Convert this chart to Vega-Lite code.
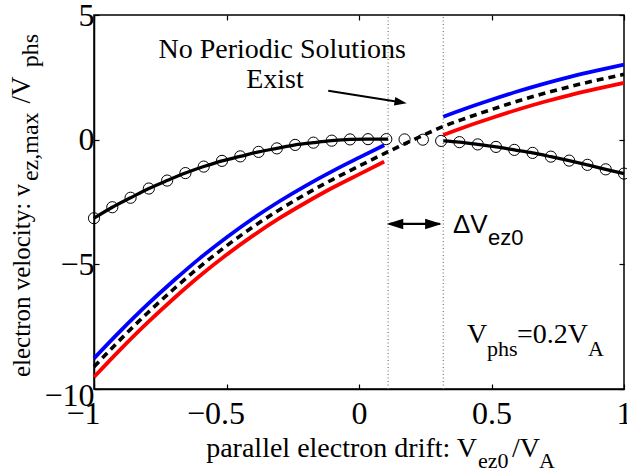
{
  "$schema": "https://vega.github.io/schema/vega-lite/v6.json",
  "width": 530,
  "height": 374,
  "autosize": {"type": "none"},
  "padding": {"left": 94, "top": 15, "right": 3, "bottom": 85},
  "background": "white",
  "config": {
    "view": {"stroke": "black", "strokeWidth": 1.5},
    "axis": {
      "labelFont": "Liberation Serif",
      "labelFontSize": 32,
      "labelColor": "black",
      "tickColor": "black",
      "tickWidth": 1.2,
      "tickSize": -5,
      "domainColor": "black",
      "domainWidth": 1.5,
      "grid": false,
      "labelOverlap": false,
      "labelFlush": false
    }
  },
  "datasets": {
    "vlines": [{"x": 0.11, "y": -10, "y2": 5}, {"x": 0.318, "y": -10, "y2": 5}],
    "curves": [
      {"s": "blue", "seg": "L", "x": -1, "y": -8.77},
      {"s": "blue", "seg": "L", "x": -0.9, "y": -7.67},
      {"s": "blue", "seg": "L", "x": -0.8, "y": -6.63},
      {"s": "blue", "seg": "L", "x": -0.7, "y": -5.66},
      {"s": "blue", "seg": "L", "x": -0.6, "y": -4.75},
      {"s": "blue", "seg": "L", "x": -0.5, "y": -3.92},
      {"s": "blue", "seg": "L", "x": -0.4, "y": -3.16},
      {"s": "blue", "seg": "L", "x": -0.3, "y": -2.47},
      {"s": "blue", "seg": "L", "x": -0.2, "y": -1.84},
      {"s": "blue", "seg": "L", "x": -0.1, "y": -1.26},
      {"s": "blue", "seg": "L", "x": 0.0, "y": -0.72},
      {"s": "blue", "seg": "L", "x": 0.095, "y": -0.22},
      {"s": "blue", "seg": "R", "x": 0.318, "y": 0.92},
      {"s": "blue", "seg": "R", "x": 0.4, "y": 1.24},
      {"s": "blue", "seg": "R", "x": 0.5, "y": 1.6},
      {"s": "blue", "seg": "R", "x": 0.6, "y": 1.94},
      {"s": "blue", "seg": "R", "x": 0.7, "y": 2.25},
      {"s": "blue", "seg": "R", "x": 0.8, "y": 2.53},
      {"s": "blue", "seg": "R", "x": 0.9, "y": 2.78},
      {"s": "blue", "seg": "R", "x": 1.0, "y": 3.01},
      {"s": "red", "seg": "L", "x": -1, "y": -9.52},
      {"s": "red", "seg": "L", "x": -0.9, "y": -8.41},
      {"s": "red", "seg": "L", "x": -0.8, "y": -7.36},
      {"s": "red", "seg": "L", "x": -0.7, "y": -6.38},
      {"s": "red", "seg": "L", "x": -0.6, "y": -5.46},
      {"s": "red", "seg": "L", "x": -0.5, "y": -4.62},
      {"s": "red", "seg": "L", "x": -0.4, "y": -3.85},
      {"s": "red", "seg": "L", "x": -0.3, "y": -3.15},
      {"s": "red", "seg": "L", "x": -0.2, "y": -2.52},
      {"s": "red", "seg": "L", "x": -0.1, "y": -1.93},
      {"s": "red", "seg": "L", "x": 0.0, "y": -1.39},
      {"s": "red", "seg": "L", "x": 0.095, "y": -0.88},
      {"s": "red", "seg": "R", "x": 0.318, "y": 0.19},
      {"s": "red", "seg": "R", "x": 0.4, "y": 0.51},
      {"s": "red", "seg": "R", "x": 0.5, "y": 0.87},
      {"s": "red", "seg": "R", "x": 0.6, "y": 1.21},
      {"s": "red", "seg": "R", "x": 0.7, "y": 1.52},
      {"s": "red", "seg": "R", "x": 0.8, "y": 1.8},
      {"s": "red", "seg": "R", "x": 0.9, "y": 2.05},
      {"s": "red", "seg": "R", "x": 1.0, "y": 2.28},
      {"s": "dash", "seg": "A", "x": -1, "y": -9.11},
      {"s": "dash", "seg": "A", "x": -0.9, "y": -8.01},
      {"s": "dash", "seg": "A", "x": -0.8, "y": -6.97},
      {"s": "dash", "seg": "A", "x": -0.7, "y": -6.0},
      {"s": "dash", "seg": "A", "x": -0.6, "y": -5.09},
      {"s": "dash", "seg": "A", "x": -0.5, "y": -4.26},
      {"s": "dash", "seg": "A", "x": -0.4, "y": -3.5},
      {"s": "dash", "seg": "A", "x": -0.3, "y": -2.81},
      {"s": "dash", "seg": "A", "x": -0.2, "y": -2.18},
      {"s": "dash", "seg": "A", "x": -0.1, "y": -1.6},
      {"s": "dash", "seg": "A", "x": 0.0, "y": -1.06},
      {"s": "dash", "seg": "A", "x": 0.095, "y": -0.56},
      {"s": "dash", "seg": "A", "x": 0.15, "y": -0.28},
      {"s": "dash", "seg": "A", "x": 0.2, "y": -0.03},
      {"s": "dash", "seg": "A", "x": 0.26, "y": 0.26},
      {"s": "dash", "seg": "A", "x": 0.318, "y": 0.53},
      {"s": "dash", "seg": "A", "x": 0.4, "y": 0.85},
      {"s": "dash", "seg": "A", "x": 0.5, "y": 1.21},
      {"s": "dash", "seg": "A", "x": 0.6, "y": 1.55},
      {"s": "dash", "seg": "A", "x": 0.7, "y": 1.86},
      {"s": "dash", "seg": "A", "x": 0.8, "y": 2.14},
      {"s": "dash", "seg": "A", "x": 0.9, "y": 2.39},
      {"s": "dash", "seg": "A", "x": 1.0, "y": 2.62},
      {"s": "black", "seg": "L", "x": -1, "y": -3.15},
      {"s": "black", "seg": "L", "x": -0.931, "y": -2.71},
      {"s": "black", "seg": "L", "x": -0.862, "y": -2.33},
      {"s": "black", "seg": "L", "x": -0.793, "y": -1.96},
      {"s": "black", "seg": "L", "x": -0.724, "y": -1.64},
      {"s": "black", "seg": "L", "x": -0.655, "y": -1.34},
      {"s": "black", "seg": "L", "x": -0.586, "y": -1.08},
      {"s": "black", "seg": "L", "x": -0.517, "y": -0.85},
      {"s": "black", "seg": "L", "x": -0.448, "y": -0.67},
      {"s": "black", "seg": "L", "x": -0.379, "y": -0.49},
      {"s": "black", "seg": "L", "x": -0.31, "y": -0.35},
      {"s": "black", "seg": "L", "x": -0.241, "y": -0.21},
      {"s": "black", "seg": "L", "x": -0.172, "y": -0.12},
      {"s": "black", "seg": "L", "x": -0.103, "y": -0.04},
      {"s": "black", "seg": "L", "x": -0.034, "y": 0.01},
      {"s": "black", "seg": "L", "x": 0.034, "y": 0.02},
      {"s": "black", "seg": "L", "x": 0.11, "y": 0.02},
      {"s": "black", "seg": "R", "x": 0.318, "y": -0.05},
      {"s": "black", "seg": "R", "x": 0.379, "y": -0.1},
      {"s": "black", "seg": "R", "x": 0.448, "y": -0.19},
      {"s": "black", "seg": "R", "x": 0.517, "y": -0.29},
      {"s": "black", "seg": "R", "x": 0.586, "y": -0.41},
      {"s": "black", "seg": "R", "x": 0.655, "y": -0.53},
      {"s": "black", "seg": "R", "x": 0.724, "y": -0.68},
      {"s": "black", "seg": "R", "x": 0.793, "y": -0.84},
      {"s": "black", "seg": "R", "x": 0.862, "y": -1.01},
      {"s": "black", "seg": "R", "x": 0.931, "y": -1.19},
      {"s": "black", "seg": "R", "x": 1.0, "y": -1.36}
    ],
    "circles": [
      {"x": -1, "y": -3.15}, {"x": -0.931, "y": -2.71}, {"x": -0.862, "y": -2.33},
      {"x": -0.793, "y": -1.96}, {"x": -0.724, "y": -1.64}, {"x": -0.655, "y": -1.34},
      {"x": -0.586, "y": -1.08}, {"x": -0.517, "y": -0.85}, {"x": -0.448, "y": -0.67},
      {"x": -0.379, "y": -0.49}, {"x": -0.31, "y": -0.35}, {"x": -0.241, "y": -0.21},
      {"x": -0.172, "y": -0.12}, {"x": -0.103, "y": -0.04}, {"x": -0.034, "y": 0.01},
      {"x": 0.034, "y": 0.02}, {"x": 0.103, "y": 0.02}, {"x": 0.172, "y": 0.01},
      {"x": 0.241, "y": 0.0}, {"x": 0.31, "y": -0.05}, {"x": 0.379, "y": -0.1},
      {"x": 0.448, "y": -0.19}, {"x": 0.517, "y": -0.29}, {"x": 0.586, "y": -0.41},
      {"x": 0.655, "y": -0.53}, {"x": 0.724, "y": -0.68}, {"x": 0.793, "y": -0.84},
      {"x": 0.862, "y": -1.01}, {"x": 0.931, "y": -1.19}, {"x": 1.0, "y": -1.36}
    ],
    "txtCenter": [{"x": -0.29, "y": 3.26, "t": "No Periodic Solutions"}, {"x": -0.317, "y": 2.06, "t": "Exist"}],
    "txtMainLeft": [{"x": 0.4075, "y": -8.155, "t": "V"}, {"x": 0.596, "y": -8.155, "t": "=0.2V"}, {"x": 0.5774, "y": -12.73, "t": "/V"}],
    "txtSubLeft": [{"x": 0.483, "y": -8.68, "t": "phs"}, {"x": 0.864, "y": -8.68, "t": "A"}, {"x": 0.449, "y": -13.17, "t": "ez0"}, {"x": 0.6792, "y": -13.17, "t": "A"}],
    "txtMainRight": [{"x": 0.4453, "y": -12.73, "t": "parallel electron drift: V"}],
    "txtDeltaMain": [{"x": 0.3547, "y": -3.74, "t": "ΔV"}],
    "txtDeltaSub": [{"x": 0.4868, "y": -4.22, "t": "ez0"}],
    "ytMainRight": [{"x": -1.2415, "y": -1.78, "t": "electron velocity: v"}],
    "ytMainLeft": [{"x": -1.2415, "y": 1.45, "t": "/V"}],
    "ytSubLeft": [{"x": -1.2113, "y": -1.66, "t": "ez,max"}, {"x": -1.2113, "y": 2.9, "t": "phs"}],
    "arrowLine": [{"x": -0.116, "y": 1.966, "x2": 0.1577, "y2": 1.5}],
    "arrowHead": [{"x": 0.18, "y": 1.46}],
    "dblLine": [{"x": 0.115, "x2": 0.305, "y": -3.38, "y2": -3.38}],
    "dblHeadR": [{"x": 0.312, "y": -3.38}],
    "dblHeadL": [{"x": 0.1045, "y": -3.38}]
  },
  "resolve": {"axis": {"x": "independent", "y": "independent"}},
  "layer": [
    {
      "encoding": {
        "x": {
          "field": "x", "type": "quantitative",
          "scale": {"domain": [-1, 1], "nice": false, "zero": false},
          "axis": {"title": null, "values": [-1, -0.5, 0, 0.5, 1], "format": "~r", "labelPadding": 14,
                   "labelFont": "Liberation Serif", "labelFontSize": 32,
                   "labelOffset": {"condition": {"test": "datum.value < 0", "value": -11}, "value": 0}}
        },
        "y": {
          "field": "y", "type": "quantitative",
          "scale": {"domain": [-10, 5], "nice": false, "zero": false},
          "axis": {"title": null, "values": [-10, -5, 0, 5], "format": "~r", "labelPadding": 5,
                   "labelFont": "Liberation Serif", "labelFontSize": 32,
                   "labelOffset": {"condition": {"test": "datum.value < -7", "value": 6}, "value": 0}}
        }
      },
      "layer": [
        {
          "data": {"name": "vlines"},
          "mark": {"type": "rule", "color": "#777777", "strokeWidth": 1.2, "strokeDash": [1, 2.5]},
          "encoding": {"y2": {"field": "y2"}}
        },
        {
          "data": {"name": "curves"},
          "transform": [{"filter": {"field": "s", "equal": "blue"}}],
          "mark": {"type": "line", "color": "#0000ff", "strokeWidth": 3.8, "interpolate": "monotone"},
          "encoding": {"detail": {"field": "seg"}}
        },
        {
          "data": {"name": "curves"},
          "transform": [{"filter": {"field": "s", "equal": "red"}}],
          "mark": {"type": "line", "color": "#ff0000", "strokeWidth": 3.8, "interpolate": "monotone"},
          "encoding": {"detail": {"field": "seg"}}
        },
        {
          "data": {"name": "curves"},
          "transform": [{"filter": {"field": "s", "equal": "dash"}}],
          "mark": {"type": "line", "color": "black", "strokeWidth": 3.6, "strokeDash": [7, 5], "interpolate": "monotone"},
          "encoding": {"detail": {"field": "seg"}}
        },
        {
          "data": {"name": "curves"},
          "transform": [{"filter": {"field": "s", "equal": "black"}}],
          "mark": {"type": "line", "color": "black", "strokeWidth": 3.2, "interpolate": "monotone"},
          "encoding": {"detail": {"field": "seg"}}
        },
        {
          "data": {"name": "circles"},
          "mark": {"type": "point", "shape": "circle", "filled": false, "stroke": "black", "strokeWidth": 1, "size": 125, "opacity": 1}
        },
        {
          "data": {"name": "txtCenter"},
          "mark": {"type": "text", "font": "Liberation Serif", "fontSize": 28, "align": "center", "baseline": "alphabetic", "color": "black"},
          "encoding": {"text": {"field": "t"}}
        },
        {
          "data": {"name": "txtMainLeft"},
          "mark": {"type": "text", "font": "Liberation Serif", "fontSize": 28, "align": "left", "baseline": "alphabetic", "color": "black"},
          "encoding": {"text": {"field": "t"}}
        },
        {
          "data": {"name": "txtSubLeft"},
          "mark": {"type": "text", "font": "Liberation Serif", "fontSize": 22, "align": "left", "baseline": "alphabetic", "color": "black"},
          "encoding": {"text": {"field": "t"}}
        },
        {
          "data": {"name": "txtMainRight"},
          "mark": {"type": "text", "font": "Liberation Serif", "fontSize": 28, "align": "right", "baseline": "alphabetic", "color": "black"},
          "encoding": {"text": {"field": "t"}}
        },
        {
          "data": {"name": "txtDeltaMain"},
          "mark": {"type": "text", "font": "Liberation Sans", "fontSize": 26, "align": "left", "baseline": "alphabetic", "color": "black"},
          "encoding": {"text": {"field": "t"}}
        },
        {
          "data": {"name": "txtDeltaSub"},
          "mark": {"type": "text", "font": "Liberation Sans", "fontSize": 22, "align": "left", "baseline": "alphabetic", "color": "black"},
          "encoding": {"text": {"field": "t"}}
        },
        {
          "data": {"name": "ytMainRight"},
          "mark": {"type": "text", "font": "Liberation Serif", "fontSize": 25, "align": "right", "baseline": "alphabetic", "angle": 270, "color": "black"},
          "encoding": {"text": {"field": "t"}}
        },
        {
          "data": {"name": "ytMainLeft"},
          "mark": {"type": "text", "font": "Liberation Serif", "fontSize": 27, "align": "left", "baseline": "alphabetic", "angle": 270, "color": "black"},
          "encoding": {"text": {"field": "t"}}
        },
        {
          "data": {"name": "ytSubLeft"},
          "mark": {"type": "text", "font": "Liberation Serif", "fontSize": 24, "align": "left", "baseline": "alphabetic", "angle": 270, "color": "black"},
          "encoding": {"text": {"field": "t"}}
        },
        {
          "data": {"name": "arrowLine"},
          "mark": {"type": "rule", "color": "black", "strokeWidth": 2},
          "encoding": {"x2": {"field": "x2"}, "y2": {"field": "y2"}}
        },
        {
          "data": {"name": "arrowHead"},
          "mark": {"type": "point", "shape": "M0,0L-1,-0.35L-1,0.35Z", "filled": true, "color": "black", "opacity": 1, "size": 600, "angle": 9}
        },
        {
          "data": {"name": "dblLine"},
          "mark": {"type": "rule", "color": "black", "strokeWidth": 2.2},
          "encoding": {"x2": {"field": "x2"}, "y2": {"field": "y2"}}
        },
        {
          "data": {"name": "dblHeadR"},
          "mark": {"type": "point", "shape": "M0,0L-1,-0.32L-1,0.32Z", "filled": true, "color": "black", "opacity": 1, "size": 1100}
        },
        {
          "data": {"name": "dblHeadL"},
          "mark": {"type": "point", "shape": "M0,0L-1,-0.32L-1,0.32Z", "filled": true, "color": "black", "opacity": 1, "size": 1100, "angle": 180}
        }
      ]
    },
    {
      "data": {"values": [{"x": 0, "y": 0}]},
      "mark": {"type": "point", "opacity": 0},
      "encoding": {
        "x": {
          "field": "x", "type": "quantitative",
          "scale": {"domain": [-1, 1], "nice": false, "zero": false},
          "axis": {"orient": "top", "title": null, "labels": false, "domain": false, "values": [-1, -0.5, 0, 0.5, 1]}
        },
        "y": {
          "field": "y", "type": "quantitative",
          "scale": {"domain": [-10, 5], "nice": false, "zero": false},
          "axis": {"orient": "right", "title": null, "labels": false, "domain": false, "values": [-10, -5, 0, 5]}
        }
      }
    }
  ]
}
